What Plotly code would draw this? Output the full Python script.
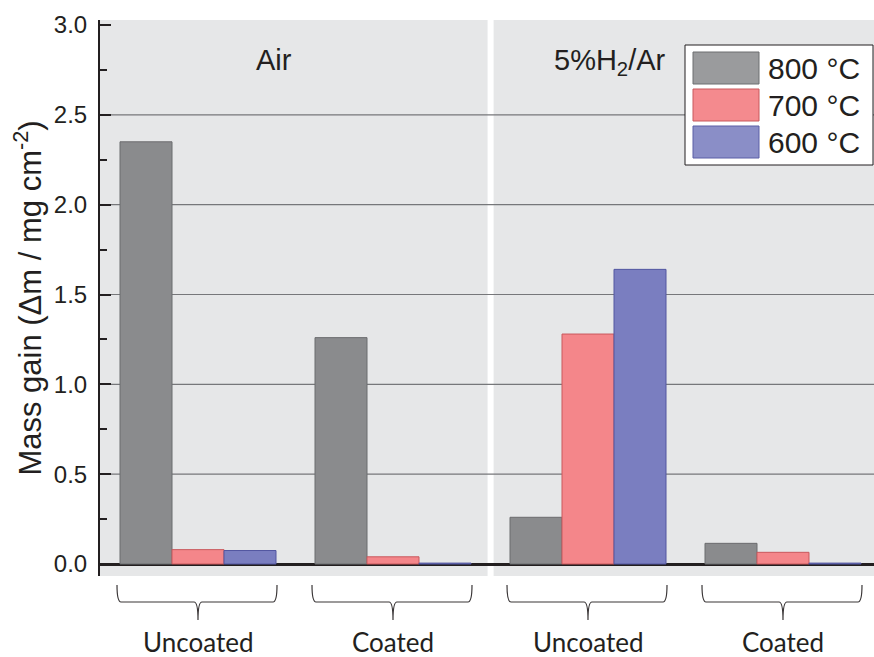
import plotly.graph_objects as go

# ---- data ----
groups = ["Air Uncoated", "Air Coated", "H2 Uncoated", "H2 Coated"]
group_labels = ["Uncoated", "Coated", "Uncoated", "Coated"]
series_names = ["800 °C", "700 °C", "600 °C"]
vals_800 = [2.35, 1.26, 0.26, 0.115]
vals_700 = [0.08, 0.04, 1.28, 0.065]
vals_600 = [0.075, 0.005, 1.64, 0.005]
atmospheres = ["Air", "5%H<sub>2</sub>/Ar"]
y_ticks = [0.0, 0.5, 1.0, 1.5, 2.0, 2.5, 3.0]

fill_colors = ["#8a8b8d", "#f4868a", "#7a7ec0"]
line_colors = ["#6b6c6e", "#c9585d", "#5256a0"]
legend_fill = ["#9a9b9d", "#f48a8e", "#8a8ec7"]
legend_line = ["#6d6e70", "#c8585c", "#5b5ea6"]

W, H = 874, 657
ML, MR, MT, MB = 100, 0, 20, 81
PW, PH = W - ML - MR, H - MT - MB
XR = [-0.5026, 3.4667]
YR = [-0.0668, 3.028]

def px_to_paper_x(px):
    return (px - ML) / PW

def px_to_paper_y(py):
    return (H - MB - py) / PH

def data_x_to_px(x):
    return ML + (x - XR[0]) / (XR[1] - XR[0]) * PW

fig = go.Figure()
xs = list(range(len(groups)))
for name, vals, fc, lc in zip(series_names, [vals_800, vals_700, vals_600], fill_colors, line_colors):
    fig.add_trace(go.Bar(x=xs, y=vals, name=name, marker=dict(color=fc, line=dict(color=lc, width=1)),
                         showlegend=False))

shapes = []
# gray panels
shapes.append(dict(type="rect", xref="x", yref="y", x0=XR[0], x1=1.485, y0=YR[0], y1=YR[1],
                   fillcolor="#e6e7e8", line=dict(width=0), layer="below"))
shapes.append(dict(type="rect", xref="x", yref="y", x0=1.516, x1=XR[1], y0=YR[0], y1=YR[1],
                   fillcolor="#e6e7e8", line=dict(width=0), layer="below"))
# grid lines
for t in y_ticks[1:-1]:
    shapes.append(dict(type="line", xref="x", yref="y", x0=XR[0], x1=XR[1], y0=t, y1=t,
                       line=dict(color="#76777a", width=1.2), layer="below"))

# brackets (curly braces under each group)
def P(x, y):
    return f"{px_to_paper_x(x):.5f},{px_to_paper_y(y):.5f}"

for i in xs:
    cx = data_x_to_px(i)
    xl, xr = cx - 81, cx + 79
    yt, ym, yb = 585, 602, 620
    path = (f"M {P(xl, yt)} Q {P(xl, ym)} {P(xl + 4, ym)} L {P(cx - 4, ym)} "
            f"Q {P(cx, ym)} {P(cx, yb)} Q {P(cx, ym)} {P(cx + 4, ym)} L {P(xr - 4, ym)} "
            f"Q {P(xr, ym)} {P(xr, yt)}")
    shapes.append(dict(type="path", xref="paper", yref="paper", path=path,
                       line=dict(color="#3a3637", width=1.2)))

annotations = []
for i, lab in enumerate(group_labels):
    annotations.append(dict(x=px_to_paper_x(data_x_to_px(i)), y=px_to_paper_y(642), xref="paper", yref="paper",
                            text=lab, showarrow=False, xanchor="center", yanchor="middle",
                            font=dict(family="Lato, Open Sans, sans-serif", size=26, color="#231f20")))
annotations.append(dict(x=px_to_paper_x(274), y=px_to_paper_y(60), xref="paper", yref="paper",
                        text=atmospheres[0], showarrow=False, xanchor="center", yanchor="middle",
                        font=dict(family="Arial, Liberation Sans", size=29, color="#231f20")))
annotations.append(dict(x=px_to_paper_x(610), y=px_to_paper_y(62), xref="paper", yref="paper",
                        text=atmospheres[1], showarrow=False, xanchor="center", yanchor="middle",
                        font=dict(family="Arial, Liberation Sans", size=29, color="#231f20")))

# custom legend
shapes.append(dict(type="rect", xref="paper", yref="paper", x0=px_to_paper_x(685), x1=px_to_paper_x(873),
                   y0=px_to_paper_y(165), y1=px_to_paper_y(45), fillcolor="white",
                   line=dict(color="#231f20", width=1)))
sw_tops = [52, 89, 126]
for name, top, fc, lc in zip(series_names, sw_tops, legend_fill, legend_line):
    shapes.append(dict(type="rect", xref="paper", yref="paper", x0=px_to_paper_x(693), x1=px_to_paper_x(759),
                       y0=px_to_paper_y(top + 32), y1=px_to_paper_y(top), fillcolor=fc,
                       line=dict(color=lc, width=1)))
    annotations.append(dict(x=px_to_paper_x(766), y=px_to_paper_y(top + 16), xref="paper", yref="paper",
                            text=name, showarrow=False, xanchor="left", yanchor="middle",
                            font=dict(family="Arial, Liberation Sans", size=30, color="#231f20")))

fig.update_layout(
    width=W, height=H,
    margin=dict(l=ML, r=MR, t=MT, b=MB, autoexpand=False),
    paper_bgcolor="white", plot_bgcolor="white",
    barmode="group", bargap=0.2, bargroupgap=0,
    shapes=shapes, annotations=annotations,
    showlegend=False,
    xaxis=dict(range=XR, showticklabels=False, showgrid=False, zeroline=False, showline=False, ticks="",
               automargin=False),
    yaxis=dict(range=YR, tickvals=y_ticks, ticktext=[f"{v:.1f}" for v in y_ticks],
               ticks="inside", ticklen=11, tickwidth=1.5, tickcolor="#231f20",
               minor=dict(tickvals=[0.25, 0.75, 1.25, 1.75, 2.25, 2.75], ticks="inside", ticklen=7,
                          tickwidth=1.5, tickcolor="#231f20"),
               showgrid=False, zeroline=True, zerolinecolor="#231f20", zerolinewidth=2.5,
               showline=True, linecolor="#231f20", linewidth=2, automargin=False,
               tickfont=dict(family="Arial, Liberation Sans", size=24, color="#231f20"),
               ticklabelstandoff=6,
               title=dict(text="Mass gain (Δm / mg cm<sup>-2</sup>)", standoff=3,
                          font=dict(family="Arial, Liberation Sans", size=31, color="#231f20"))),
)

fig.write_html("out.html", config={"displayModeBar": False},
               post_script="document.body.style.margin='0';document.body.style.padding='0';")
